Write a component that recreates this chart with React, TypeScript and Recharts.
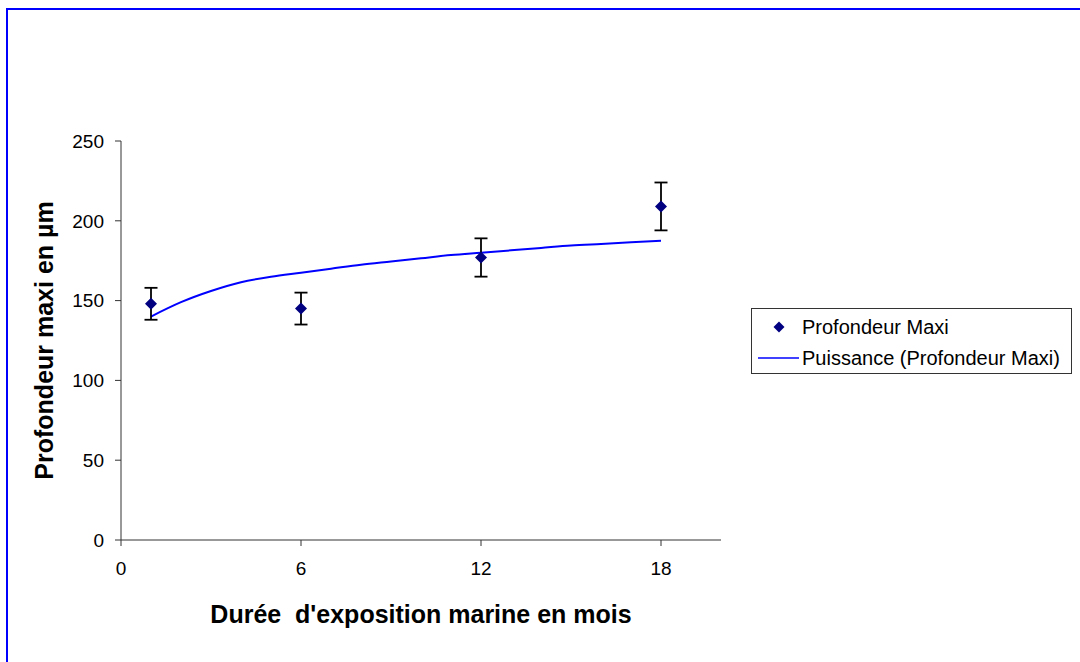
import {
  ComposedChart,
  ErrorBar,
  Legend,
  Line,
  Scatter,
  XAxis,
  YAxis,
} from 'recharts';

const months = [1, 6, 12, 18];
const depthMax = [148, 145, 177, 209];
const depthErr = [10, 10, 12, 15];

// power trend line at each month
const trendMonths = [1, 2, 3, 4, 5, 6, 7, 8, 9, 10, 11, 12, 13, 14, 15, 16, 17, 18];
const trendValues = [
  140, 149, 156, 161.5, 165, 167.5, 170, 172.5, 174.5, 176.5, 178.5, 180,
  181.5, 183, 184.5, 185.5, 186.5, 187.5,
];

const xTicks = [0, 6, 12, 18];
const yTicks = [0, 50, 100, 150, 200, 250];

const points = months.map((m, i) => ({ x: m, y: depthMax[i], err: depthErr[i] }));
const trend = trendMonths.map((m, i) => ({ x: m, y: trendValues[i] }));

const font = '"Liberation Sans", Arial, sans-serif';
const axisColor = '#333333';

const Diamond = (props: any) => {
  const { cx, cy } = props;
  const r = 6;
  return (
    <polygon
      points={`${cx},${cy - r} ${cx + r},${cy} ${cx},${cy + r} ${cx - r},${cy}`}
      fill="#000080"
    />
  );
};

const LegendBox = () => (
  <div
    style={{
      width: 319,
      height: 64,
      border: '1px solid #333',
      background: '#fff',
      fontFamily: font,
      fontSize: 20,
      color: '#000',
      boxSizing: 'content-box',
      whiteSpace: 'nowrap',
    }}
  >
    <div style={{ display: 'flex', alignItems: 'center', height: 32, marginTop: 2 }}>
      <svg width={50} height={20}>
        <polygon points="27,4.5 32.5,10 27,15.5 21.5,10" fill="#000080" />
      </svg>
      <span>Profondeur Maxi</span>
    </div>
    <div style={{ display: 'flex', alignItems: 'center', height: 30 }}>
      <svg width={50} height={20} style={{ marginLeft: 6 }}>
        <line x1={0} y1={10} x2={41} y2={10} stroke="#0000FF" strokeWidth={1.5} />
      </svg>
      <span style={{ marginLeft: -6 }}>Puissance (Profondeur Maxi)</span>
    </div>
  </div>
);

const YTitle = (props: any) => {
  const vb = props.viewBox;
  const x = 44;
  const y = vb.y + vb.height / 2;
  return (
    <text
      x={x}
      y={y}
      transform={`rotate(-90, ${x}, ${y})`}
      textAnchor="middle"
      dominantBaseline="central"
      fontFamily={font}
      fontSize={25}
      fontWeight="bold"
      fill="#000"
    >
      Profondeur maxi en µm
    </text>
  );
};

const XTitle = (props: any) => {
  const vb = props.viewBox;
  return (
    <text
      x={421}
      y={vb.y + 74}
      textAnchor="middle"
      dominantBaseline="central"
      fontFamily={font}
      fontSize={25}
      fontWeight="bold"
      fill="#000"
    >
      {'Durée\u00a0 d\'exposition marine en mois'}
    </text>
  );
};

export default function App() {
  return (
    <div
      style={{
        position: 'relative',
        width: 1080,
        height: 662,
        overflow: 'hidden',
        background: '#fff',
        fontFamily: font,
      }}
    >
      <style>{'body{margin:0}'}</style>
      <div
        style={{
          position: 'absolute',
          left: 6,
          top: 8,
          width: 1100,
          height: 700,
          border: '2px solid #0000FF',
        }}
      />
      <div style={{ position: 'absolute', left: 0, top: 0 }}>
        <ComposedChart
          width={1080}
          height={662}
          margin={{ top: 141, right: 359, bottom: 92, left: 61 }}
        >
          <XAxis
            type="number"
            dataKey="x"
            domain={[0, 20]}
            ticks={xTicks}
            height={30}
            tickSize={6}
            tickMargin={16}
            stroke={axisColor}
            tick={{ fill: '#000', fontSize: 19, fontFamily: font }}
            allowDataOverflow
            label={{ content: XTitle }}
          />
          <YAxis
            type="number"
            dataKey="y"
            domain={[0, 250]}
            ticks={yTicks}
            width={60}
            tickSize={6}
            tickMargin={11}
            stroke={axisColor}
            tick={{ fill: '#000', fontSize: 19, fontFamily: font }}
            label={{ content: YTitle }}
          />
          <Line
            data={trend}
            dataKey="y"
            type="monotone"
            stroke="#0000FF"
            strokeWidth={2}
            dot={false}
            activeDot={false}
            isAnimationActive={false}
          />
          <Scatter
            data={points}
            dataKey="y"
            shape={Diamond}
            isAnimationActive={false}
          >
            <ErrorBar
              dataKey="err"
              direction="y"
              width={6.5}
              stroke="#000"
              strokeWidth={1.8}
              isAnimationActive={false}
            />
          </Scatter>
          <Legend
            layout="horizontal"
            verticalAlign="middle"
            align="center"
            content={LegendBox}
            wrapperStyle={{ left: 751, top: 308, width: 321, height: 66 }}
          />
        </ComposedChart>
      </div>
    </div>
  );
}
